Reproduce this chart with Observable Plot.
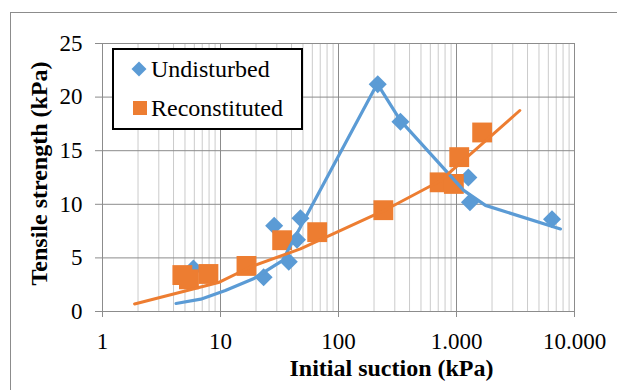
<!DOCTYPE html>
<html>
<head>
<meta charset="utf-8">
<script src="https://cdn.jsdelivr.net/npm/d3@7"></script>
<script src="https://cdn.jsdelivr.net/npm/@observablehq/plot@0.6"></script>
<style>
  body { margin: 0; background: #fff; }
</style>
</head>
<body>
<div id="chart"></div>
<script>
// Measured tensile strength against initial suction
const undisturbedSuction  = [5.9, 23.2, 28.5, 37.9, 44.5, 47.6, 215, 335, 1260, 1300, 6450];
const undisturbedStrength = [4.0, 3.2, 8.0, 4.65, 6.7, 8.7, 21.2, 17.7, 12.5, 10.2, 8.6];

const reconstitutedSuction  = [4.75, 5.4, 7.9, 16.6, 33.3, 66, 240, 720, 950, 1055, 1650];
const reconstitutedStrength = [3.4, 3.0, 3.5, 4.25, 6.65, 7.4, 9.45, 12.05, 11.9, 14.4, 16.7];

// Model curves drawn through the two data sets
const undisturbedCurveSuction  = [4.2, 6.8, 11, 19, 33.5, 213, 335, 1150, 1760, 7600];
const undisturbedCurveStrength = [0.75, 1.15, 1.95, 3.05, 4.75, 21.25, 17.8, 11.3, 9.9, 7.7];

const reconstitutedCurveSuction  = [1.87, 9.6, 17.9, 47.6, 242, 731, 3440];
const reconstitutedCurveStrength = [0.7, 2.7, 4.15, 5.85, 9.4, 12.2, 18.75];

// Axes
const xTicks = [1, 10, 100, 1000, 10000];
const xTickLabels = ["1", "10", "100", "1.000", "10.000"];
const yTicks = [0, 5, 10, 15, 20, 25];
const seriesNames = ["Undisturbed", "Reconstituted"];
const xTitle = "Initial suction (kPa)";
const yTitle = "Tensile strength (kPa)";

const blue = "#5B9BD5";
const orange = "#ED7D31";
const gridMajor = "#8c8c8c";
const gridMinor = "#cbcbcb";
const font = '"Liberation Serif", "Times New Roman", serif';

const toRows = (xs, ys) => xs.map((x, i) => ({suction: x, strength: ys[i]}));
const undisturbed = toRows(undisturbedSuction, undisturbedStrength);
const reconstituted = toRows(reconstitutedSuction, reconstitutedStrength);
const undisturbedCurve = toRows(undisturbedCurveSuction, undisturbedCurveStrength);
const reconstitutedCurve = toRows(reconstitutedCurveSuction, reconstitutedCurveStrength);

const xLabelOf = new Map(xTicks.map((t, i) => [t, xTickLabels[i]]));
// log-scale minor gridlines: 2..9 within each decade
const xMinor = xTicks.slice(0, -1).flatMap(d => d3.range(2, 10).map(m => d * m));

const chart = Plot.plot({
  width: 617,
  height: 390,
  marginLeft: 102,
  marginRight: 43,
  marginTop: 43,
  marginBottom: 79,
  style: {fontFamily: font, fontSize: "23px", color: "#000", background: "#fff", overflow: "visible"},
  x: {type: "log", domain: [1, 10000], axis: null},
  y: {domain: [0, 25], axis: null},
  marks: [
    Plot.ruleX(xMinor, {stroke: gridMinor, strokeWidth: 1}),
    Plot.ruleX(xTicks, {stroke: gridMajor, strokeWidth: 1}),
    Plot.ruleY(yTicks, {stroke: gridMajor, strokeWidth: 1}),
    Plot.axisX(xTicks, {
      tickSize: 6, tickPadding: 15, tickFormat: d => xLabelOf.get(d),
      stroke: gridMajor, fill: "#000", fontSize: 23, label: null
    }),
    Plot.axisY(yTicks, {
      tickSize: 7, tickPadding: 13,
      stroke: gridMajor, fill: "#000", fontSize: 23, label: null
    }),
    Plot.dot(undisturbed, {x: "suction", y: "strength", symbol: "square", r: 7.2, rotate: 45, fill: blue}),
    Plot.dot(reconstituted, {x: "suction", y: "strength", symbol: "square", r: 11.2, fill: orange}),
    Plot.line(undisturbedCurve, {x: "suction", y: "strength", stroke: blue, strokeWidth: 3.2}),
    Plot.line(reconstitutedCurve, {x: "suction", y: "strength", stroke: orange, strokeWidth: 3}),
    Plot.text([xTitle], {
      text: d => d, frameAnchor: "bottom", textAnchor: "middle", lineAnchor: "middle",
      dx: 53, dy: 57, fontWeight: "bold", fontSize: 24, fill: "#000"
    }),
    Plot.text([yTitle], {
      text: d => d, frameAnchor: "left", textAnchor: "middle", lineAnchor: "middle",
      rotate: -90, dx: -63, dy: -4, fontWeight: "bold", fontSize: 24, fill: "#000"
    })
  ]
});

document.getElementById("chart").appendChild(chart);

// Chart-area border and the legend box
const svg = d3.select(chart);
svg.insert("rect", ":first-child")
  .attr("x", 10.5).attr("y", 12.5).attr("width", 640).attr("height", 420)
  .attr("fill", "none").attr("stroke", gridMajor).attr("stroke-width", 1);

const legend = svg.append("g");
legend.append("rect")
  .attr("x", 113).attr("y", 49).attr("width", 189).attr("height", 80)
  .attr("fill", "#fff").attr("stroke", "#000").attr("stroke-width", 2);
legend.append("path")
  .attr("d", d3.symbol(d3.symbolSquare, 112)())
  .attr("transform", "translate(139,69) rotate(45)")
  .attr("fill", blue);
legend.append("rect")
  .attr("x", 133).attr("y", 101).attr("width", 14).attr("height", 14)
  .attr("fill", orange);
legend.selectAll("text")
  .data(seriesNames)
  .join("text")
  .attr("x", 151)
  .attr("y", (d, i) => i === 0 ? 77 : 116)
  .attr("text-anchor", "start")
  .style("font-family", font)
  .style("font-size", "24px")
  .style("fill", "#000")
  .text(d => d);
</script>
</body>
</html>
